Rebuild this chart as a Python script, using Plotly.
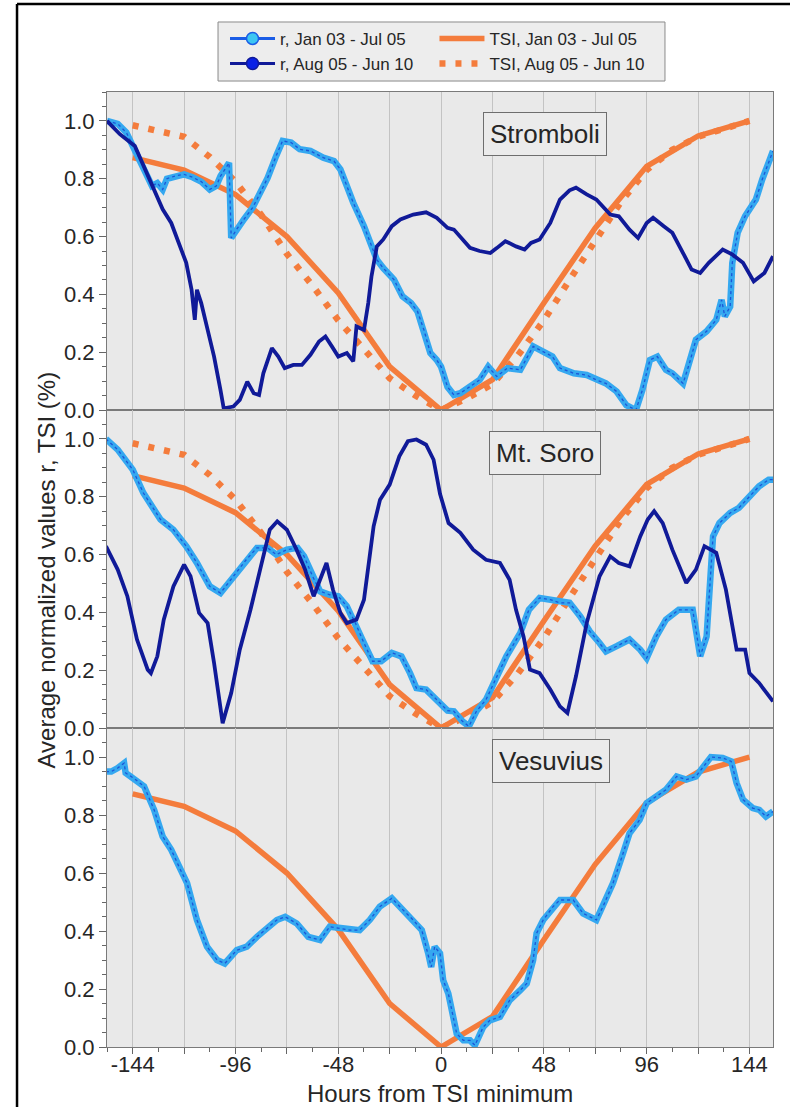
import plotly.graph_objects as go

# ---------------- data ----------------
TSI_H = [-144, -120, -96, -72, -48, -24, 0, 24, 48, 72, 96, 120, 144]
TSI_JAN = [0.873, 0.83, 0.745, 0.60, 0.405, 0.15, 0.0, 0.105, 0.37, 0.63, 0.843, 0.948, 1.0]

TSI_AUG_H = [-144, -132, -120, -108, -96, -84, -72, -60, -48, -36, -24, -12, 0,
             12, 24, 36, 48, 60, 72, 84, 96, 108, 120, 132, 144]
TSI_AUG = [0.985, 0.965, 0.945, 0.875, 0.79, 0.675, 0.54, 0.43, 0.31, 0.21, 0.11, 0.05, 0.0,
           0.04, 0.09, 0.19, 0.31, 0.45, 0.585, 0.72, 0.83, 0.90, 0.945, 0.975, 1.0]

# Stromboli
S_JAN_H = [-156, -151, -147, -144, -142, -138, -135, -132.5, -130, -128, -124, -120, -116, -112, -108,
           -105, -103, -101, -99, -98, -95, -92, -88, -86, -81, -77, -74, -70, -66, -61,
           -55, -50, -47, -44, -41, -36, -32, -30, -27, -22, -18, -14, -11, -8, -5,
           -2, 0, 3, 6, 9, 13.5, 18, 22, 26, 31, 37, 43, 46, 52, 55.5,
           62, 68, 72.5, 77, 82, 86.5, 91, 94, 97.5, 101, 105, 108, 113, 116, 119,
           124, 128.5, 131, 132.5, 135, 136, 138.5, 142, 147, 150, 155]
S_JAN_V = [1.0, 0.99, 0.96, 0.915, 0.89, 0.83, 0.775, 0.785, 0.763, 0.80, 0.81, 0.815, 0.805, 0.79, 0.763,
           0.775, 0.809, 0.83, 0.855, 0.595, 0.63, 0.66, 0.70, 0.728, 0.803, 0.879, 0.931, 0.925, 0.902, 0.896,
           0.873, 0.861, 0.832, 0.775, 0.717, 0.636, 0.555, 0.52, 0.491, 0.451, 0.393, 0.37, 0.341, 0.277, 0.197,
           0.173, 0.15, 0.08, 0.052, 0.058, 0.081, 0.104, 0.15, 0.116, 0.145, 0.139, 0.22, 0.208, 0.185, 0.145,
           0.127, 0.121, 0.104, 0.092, 0.064, 0.017, 0.0, 0.069, 0.173, 0.185, 0.139, 0.127, 0.092, 0.162, 0.243,
           0.272, 0.312, 0.381, 0.324, 0.358, 0.509, 0.613, 0.671, 0.728, 0.798, 0.896]

S_AUG_H = [-156, -150, -143, -139, -134, -130, -126, -122, -119, -116.5, -115, -114, -112, -109, -106,
           -103, -101.5, -97, -94, -90.5, -87.5, -85, -83, -79, -76, -73, -69, -65, -61, -57,
           -54, -51, -48, -44, -41, -39.5, -36, -34, -32.5, -30, -27, -23, -19, -13, -7,
           -2, 3, 6, 10, 13.5, 18, 23, 26, 30, 35, 39, 42, 46, 51, 55.5,
           60, 63, 68, 72.5, 79, 83, 88, 92, 96, 99, 104, 108, 113, 117, 121,
           125, 131.5, 136, 141, 146, 151, 155]
S_AUG_V = [1.0, 0.954, 0.913, 0.844, 0.763, 0.694, 0.647, 0.566, 0.509, 0.416, 0.312, 0.416, 0.37, 0.277, 0.185,
           0.069, 0.006, 0.012, 0.035, 0.098, 0.058, 0.052, 0.127, 0.214, 0.185, 0.145, 0.156, 0.156, 0.191, 0.237,
           0.254, 0.22, 0.185, 0.197, 0.168, 0.289, 0.277, 0.37, 0.462, 0.566, 0.59, 0.636, 0.659, 0.676, 0.684,
           0.665, 0.63, 0.624, 0.59, 0.561, 0.55, 0.543, 0.56, 0.584, 0.566, 0.555, 0.578, 0.59, 0.647, 0.728,
           0.76, 0.769, 0.746, 0.728, 0.676, 0.67, 0.624, 0.595, 0.647, 0.665, 0.636, 0.613, 0.543, 0.486, 0.474,
           0.509, 0.555, 0.538, 0.509, 0.445, 0.474, 0.532]

# Mt. Soro
M_JAN_H = [-156.5, -151, -144, -139, -133, -131, -125, -119, -114, -108, -103, -97, -91, -86, -81,
           -77, -72, -67, -64, -60, -56.5, -52, -48, -44, -40, -36, -32, -28, -23, -18.5,
           -14.5, -11.5, -7, -2, 3, 6, 10, 13, 16.5, 21, 26, 30.5, 37, 41, 46,
           51, 55.5, 60, 65, 69.5, 74, 77, 82, 88, 93, 96, 100.5, 105, 111, 117.5,
           119, 121, 124, 127, 130, 135, 139, 144, 148.5, 153, 155]
M_JAN_V = [1.0, 0.963, 0.894, 0.813, 0.744, 0.721, 0.686, 0.629, 0.571, 0.49, 0.467, 0.525, 0.582, 0.623, 0.623,
           0.60, 0.617, 0.623, 0.594, 0.525, 0.473, 0.461, 0.456, 0.421, 0.363, 0.294, 0.231, 0.231, 0.26, 0.248,
           0.19, 0.138, 0.133, 0.098, 0.06, 0.058, 0.023, 0.006, 0.058, 0.098, 0.179, 0.248, 0.329, 0.409, 0.45,
           0.444, 0.433, 0.433, 0.386, 0.334, 0.294, 0.265, 0.283, 0.306, 0.271, 0.242, 0.317, 0.375, 0.409, 0.409,
           0.34, 0.248, 0.317, 0.663, 0.709, 0.744, 0.761, 0.802, 0.836, 0.859, 0.859]

M_AUG_H = [-156.5, -151, -146.5, -142, -137, -135.5, -132.5, -129.5, -125, -120, -117, -113, -109, -106, -102,
           -98, -94, -89, -84.5, -80, -76.5, -72, -67.5, -63.5, -59.5, -56.5, -53.5, -50.5, -47, -44,
           -39.5, -36, -31.5, -28.5, -24, -19.5, -15.5, -11.5, -7, -3.5, -0.5, 3.5, 9, 15, 21,
           27.5, 32, 35, 38.5, 41.5, 46, 51, 55.5, 59, 63, 68, 74, 79, 83, 88,
           93, 96.5, 99.5, 103.5, 108, 114.5, 119, 123, 128.5, 133, 138, 142, 144, 148.5, 153, 155]
M_AUG_V = [0.629, 0.548, 0.456, 0.306, 0.202, 0.19, 0.248, 0.375, 0.49, 0.565, 0.525, 0.398, 0.363, 0.225, 0.017,
           0.121, 0.271, 0.409, 0.548, 0.686, 0.715, 0.686, 0.617, 0.548, 0.456, 0.513, 0.571, 0.479, 0.398, 0.363,
           0.375, 0.444, 0.698, 0.79, 0.842, 0.94, 0.992, 0.998, 0.98, 0.928, 0.81, 0.709, 0.675, 0.617, 0.582,
           0.571, 0.513, 0.409, 0.317, 0.202, 0.19, 0.133, 0.075, 0.052, 0.179, 0.363, 0.525, 0.594, 0.571, 0.559,
           0.663, 0.721, 0.75, 0.709, 0.617, 0.502, 0.548, 0.629, 0.606, 0.479, 0.271, 0.271, 0.19, 0.156, 0.11, 0.092]

# Vesuvius
V_JAN_H = [-156.5, -154, -151, -148, -147.3, -143.5, -138.7, -134, -130, -126, -121.7, -118.6, -114, -109.3, -104.6,
           -101, -95.4, -90.7, -86, -81.4, -76.7, -72.8, -67.4, -62, -56.5, -52, -47, -42.6, -38, -33.3,
           -28.6, -23, -18.5, -13, -9, -6, -4.6, -3, -0.5, 1, 3.4, 7.3, 10.4, 13.5, 15.8,
           19.7, 22.8, 27.5, 32, 37, 40, 43, 44.6, 47.7, 52.3, 55.5, 61.7, 66.3, 72.5, 75.6,
           80.3, 85, 88, 92.7, 96, 100.5, 105, 110, 114.5, 119, 124, 126, 131.5, 135.5, 138,
           141, 145.5, 148.6, 151.7, 155]
V_JAN_V = [0.95, 0.95, 0.962, 0.979, 0.945, 0.927, 0.899, 0.818, 0.726, 0.68, 0.611, 0.565, 0.438, 0.346, 0.30,
           0.288, 0.334, 0.346, 0.38, 0.409, 0.438, 0.449, 0.426, 0.38, 0.369, 0.415, 0.409, 0.403, 0.403, 0.438,
           0.484, 0.513, 0.478, 0.438, 0.403, 0.323, 0.276, 0.346, 0.323, 0.23, 0.184, 0.046, 0.023, 0.023, 0.006,
           0.069, 0.092, 0.104, 0.161, 0.196, 0.219, 0.30, 0.392, 0.438, 0.484, 0.507, 0.507, 0.461, 0.438, 0.484,
           0.565, 0.668, 0.737, 0.783, 0.841, 0.864, 0.887, 0.933, 0.922, 0.933, 0.979, 1.0, 0.997, 0.985, 0.91,
           0.853, 0.824, 0.818, 0.795, 0.812]

X_TICKS = [-144, -120, -96, -72, -48, -24, 0, 24, 48, 72, 96, 120, 144]
X_LABELS = ["-144", "", "-96", "", "-48", "", "0", "", "48", "", "96", "", "144"]
Y_TICKS = [0.0, 0.2, 0.4, 0.6, 0.8, 1.0]
Y_LABELS = ["0.0", "0.2", "0.4", "0.6", "0.8", "1.0"]
PANELS = ["Stromboli", "Mt. Soro", "Vesuvius"]

LEG_R_JAN = "r, Jan 03 - Jul 05"
LEG_R_AUG = "r, Aug 05 - Jun 10"
LEG_T_JAN = "TSI, Jan 03 - Jul 05"
LEG_T_AUG = "TSI, Aug 05 - Jun 10"

# ---------------- style ----------------
FONT = "Liberation Sans, Arial, sans-serif"
TXT = "#262626"
ORANGE = "#f47c3c"
LBLUE = "#35a8f0"
CORE = "#1d55d6"
NAVY = "#101a98"
FRAME = "#7a7a7a"

fig = go.Figure()

series = [
    ("y", S_JAN_H, S_JAN_V, S_AUG_H, S_AUG_V, True),
    ("y2", M_JAN_H, M_JAN_V, M_AUG_H, M_AUG_V, True),
    ("y3", V_JAN_H, V_JAN_V, None, None, False),
]
xnames = {"y": "x", "y2": "x2", "y3": "x3"}

for yax, jh, jv, ah, av, has_aug in series:
    xax = xnames[yax]
    if has_aug:
        fig.add_trace(go.Scatter(x=TSI_AUG_H, y=TSI_AUG, xaxis=xax, yaxis=yax, mode="lines",
                                 line=dict(color=ORANGE, width=6.5, dash="6px,10px"),
                                 showlegend=False, hoverinfo="skip"))
    fig.add_trace(go.Scatter(x=TSI_H, y=TSI_JAN, xaxis=xax, yaxis=yax, mode="lines",
                             line=dict(color=ORANGE, width=5.5),
                             showlegend=False, hoverinfo="skip"))
    fig.add_trace(go.Scatter(x=jh, y=jv, xaxis=xax, yaxis=yax, mode="lines",
                             line=dict(color=LBLUE, width=6.5),
                             showlegend=False, hoverinfo="skip"))
    fig.add_trace(go.Scatter(x=jh, y=jv, xaxis=xax, yaxis=yax, mode="lines",
                             line=dict(color=CORE, width=1.3, dash="3px,3px"),
                             showlegend=False, hoverinfo="skip"))
    if has_aug:
        fig.add_trace(go.Scatter(x=ah, y=av, xaxis=xax, yaxis=yax, mode="lines",
                                 line=dict(color=NAVY, width=3.8),
                                 showlegend=False, hoverinfo="skip"))

# legend-only traces
fig.add_trace(go.Scatter(x=[None], y=[None], mode="lines+markers", name=LEG_R_JAN, legend="legend",
                         line=dict(color="#1a5ce6", width=3),
                         marker=dict(symbol="circle", size=12, color="#3cc6f2",
                                     line=dict(color="#1a5ce6", width=1.5))))
fig.add_trace(go.Scatter(x=[None], y=[None], mode="lines+markers", name=LEG_R_AUG, legend="legend",
                         line=dict(color=NAVY, width=3),
                         marker=dict(symbol="circle", size=12, color="#0a22e6",
                                     line=dict(color=NAVY, width=1.5))))
fig.add_trace(go.Scatter(x=[None], y=[None], mode="lines", name=LEG_T_JAN, legend="legend2",
                         line=dict(color=ORANGE, width=5.5)))
fig.add_trace(go.Scatter(x=[None], y=[None], mode="lines", name=LEG_T_AUG, legend="legend2",
                         line=dict(color=ORANGE, width=6.5, dash="6px,10px")))

domains = {"y": [0.667, 1.0], "y2": [0.334, 0.667], "y3": [0.0, 0.334]}
layout = dict(
    width=790, height=1107,
    margin=dict(l=107, r=17, t=92, b=60, pad=0),
    paper_bgcolor="white", plot_bgcolor="#e9e9e9",
    font=dict(family=FONT, size=22, color=TXT),
    showlegend=True,
)
for i, yax in enumerate(["y", "y2", "y3"]):
    xk = "xaxis" if i == 0 else "xaxis%d" % (i + 1)
    yk = "yaxis" if i == 0 else "yaxis%d" % (i + 1)
    bottom = (i == 2)
    layout[xk] = dict(
        anchor=yax, domain=[0, 1], range=[-156, 155],
        tickmode="array", tickvals=X_TICKS, ticktext=X_LABELS,
        showticklabels=bottom, ticks="outside" if bottom else "",
        ticklen=6, tickwidth=1, tickcolor="#666",
        showgrid=True, gridcolor="#c3c3c3", gridwidth=1, zeroline=False,
        showline=True, linecolor=FRAME, linewidth=1.2, mirror=True,
        tickfont=dict(size=22, color=TXT),
        minor=dict(ticks="outside" if bottom else "", dtick=12, tick0=0, ticklen=4,
                   tickcolor="#666", showgrid=False),
    )
    layout[yk] = dict(
        anchor=xnames[yax], domain=domains[yax], range=[0, 1.1],
        tickmode="array", tickvals=Y_TICKS, ticktext=Y_LABELS,
        ticks="outside", ticklen=7, tickwidth=1, tickcolor="#666",
        showgrid=False, zeroline=False,
        showline=True, linecolor=FRAME, linewidth=1.2, mirror=True,
        tickfont=dict(size=22, color=TXT),
        minor=dict(ticks="outside", dtick=0.05, tick0=0, ticklen=4, tickcolor="#666", showgrid=False),
    )

layout["legend"] = dict(orientation="v", x=0.1772, xanchor="left", y=1.0745, yanchor="top",
                        bgcolor="rgba(0,0,0,0)", borderwidth=0, font=dict(size=17, color=TXT),
                        tracegroupgap=0, itemwidth=45)
layout["legend2"] = dict(orientation="v", x=0.4917, xanchor="left", y=1.0745, yanchor="top",
                         bgcolor="rgba(0,0,0,0)", borderwidth=0, font=dict(size=17, color=TXT),
                         tracegroupgap=0, itemwidth=45)

ann = []
ann_pos = [("x", "y", 48.5, 0.954), ("x2", "y2", 48.5, 0.953), ("x3", "y3", 51.5, 0.987)]
for name, (xr, yr, ax_, ay_) in zip(PANELS, ann_pos):
    ann.append(dict(text=name, x=ax_, y=ay_, xref=xr, yref=yr, showarrow=False,
                    font=dict(size=26, color=TXT), bgcolor="#ebebeb",
                    bordercolor="#6e6e6e", borderwidth=1, borderpad=6))
ann.append(dict(text="Average normalized values r, TSI (%)", x=-0.0901, y=0.5,
                xref="paper", yref="paper", textangle=-90, showarrow=False,
                font=dict(size=24, color=TXT), xanchor="center", yanchor="middle"))
ann.append(dict(text="Hours from TSI minimum", x=0.5, y=-0.049, xref="paper", yref="paper",
                showarrow=False, font=dict(size=24, color=TXT), xanchor="center", yanchor="middle"))
layout["annotations"] = ann

layout["shapes"] = [
    dict(type="rect", xref="paper", yref="paper", x0=0.1667, x1=0.8378, y0=1.0115, y1=1.0733,
         fillcolor="#ededed", line=dict(color="#8a8a8a", width=1), layer="above"),
    dict(type="line", xref="paper", yref="paper", x0=-0.1351, x1=1.03, y0=1.0921, y1=1.0921,
         line=dict(color="black", width=2.5)),
    dict(type="line", xref="paper", yref="paper", x0=-0.1351, x1=-0.1351, y0=1.0921, y1=-0.07,
         line=dict(color="black", width=2.5)),
]

fig.update_layout(**layout)
try:
    fig.update_xaxes(ticklabelstandoff=-9, selector=dict(anchor="y3"))
except Exception:
    pass
fig.write_html("out.html")
